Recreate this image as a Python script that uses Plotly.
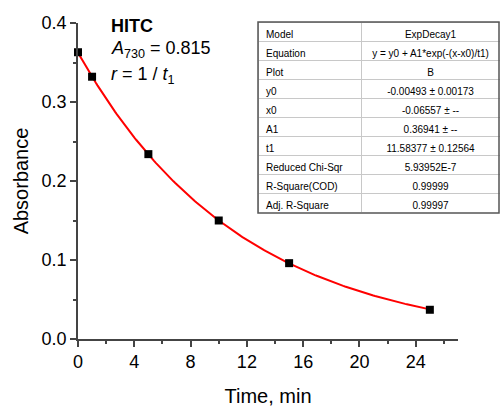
import plotly.graph_objects as go
import numpy as np

# Measured absorbance at 730 nm vs time
time_min = [0, 1, 5, 10, 15, 25]
absorbance = [0.363, 0.332, 0.234, 0.150, 0.096, 0.037]

# ExpDecay1 fit parameters
y0 = -0.00493
x0 = -0.06557
A1 = 0.36941
t1 = 11.58377

table_labels = ["Model", "Equation", "Plot", "y0", "x0", "A1", "t1",
                "Reduced Chi-Sqr", "R-Square(COD)", "Adj. R-Square"]
table_values = ["ExpDecay1", "y = y0 + A1*exp(-(x-x0)/t1)", "B",
                "-0.00493 ± 0.00173", "-0.06557 ± --", "0.36941 ± --",
                "11.58377 ± 0.12564", "5.93952E-7", "0.99999", "0.99997"]

x_ticks = [0, 4, 8, 12, 16, 20, 24]
y_ticks = [0.0, 0.1, 0.2, 0.3, 0.4]

fit_x = np.linspace(0, 25, 200)
fit_y = y0 + A1 * np.exp(-(fit_x - x0) / t1)

FONT = "Liberation Sans, Arial, sans-serif"

fig = go.Figure()
fig.add_trace(go.Scatter(x=fit_x, y=fit_y, mode="lines",
                         line=dict(color="#ff0000", width=2), showlegend=False))
fig.add_trace(go.Scatter(x=time_min, y=absorbance, mode="markers",
                         marker=dict(symbol="square", size=8, color="black"),
                         cliponaxis=False, showlegend=False))

fig.add_trace(go.Table(
    domain=dict(x=[(258 - 78) / 422, 1.0], y=[(339 - 213) / 319, (339 - 22) / 319]),
    columnwidth=[103, 139],
    header=dict(values=[table_labels[0], table_values[0]],
                align=["left", "center"], height=19,
                fill_color="white", line=dict(color="#c8c8c8", width=1),
                font=dict(family=FONT, size=10, color="black")),
    cells=dict(values=[table_labels[1:], table_values[1:]],
               align=["left", "center"], height=19,
               fill_color="white", line=dict(color="#c8c8c8", width=1),
               font=dict(family=FONT, size=10, color="black")),
))

fig.add_shape(type="rect", xref="paper", yref="paper",
              x0=(258 - 78) / 422, x1=(499 - 78) / 422,
              y0=(339 - 213) / 319, y1=(339 - 22) / 319,
              line=dict(color="#555555", width=1.5), layer="above")

ann_font = dict(family=FONT, size=18, color="black")
fig.add_annotation(x=0.074, y=0.396, xref="paper", yref="y", xanchor="left", yanchor="middle",
                   text="<b>HITC</b>", showarrow=False, font=ann_font)
fig.add_annotation(x=0.074, y=0.366, xref="paper", yref="y", xanchor="left", yanchor="middle",
                   text="<i>A</i><sub>730</sub> = 0.815", showarrow=False, font=ann_font)
fig.add_annotation(x=0.074, y=0.334, xref="paper", yref="y", xanchor="left", yanchor="middle",
                   text="<i>r</i> = 1 / <i>t</i><sub>1</sub>", showarrow=False, font=ann_font)

axis_common = dict(showgrid=False, zeroline=False, showline=True, linecolor="#444444",
                   linewidth=1.5, ticks="outside", ticklen=6, tickwidth=1.5,
                   tickcolor="#444444", tickfont=dict(family=FONT, size=18, color="black"))

fig.update_layout(
    width=500, height=407,
    margin=dict(l=78, r=0, t=20, b=68),
    paper_bgcolor="white", plot_bgcolor="white",
    xaxis=dict(range=[0, 27], domain=[0, 380 / 422], tickvals=x_ticks,
               ticktext=[str(v) for v in x_ticks],
               minor=dict(dtick=2, tick0=0, ticks="outside", ticklen=3, tickcolor="#444444"),
               title=dict(text="Time, min", font=dict(family=FONT, size=20, color="black"),
                          standoff=20),
               **axis_common),
    yaxis=dict(range=[0, 0.4], domain=[0, 316 / 319], tickvals=y_ticks,
               ticktext=[f"{v:.1f}" for v in y_ticks],
               minor=dict(dtick=0.05, tick0=0, ticks="outside", ticklen=3, tickcolor="#444444"),
               title=dict(text="Absorbance", font=dict(family=FONT, size=20, color="black"),
                          standoff=8),
               **axis_common),
)

fig.write_html("out.html")
